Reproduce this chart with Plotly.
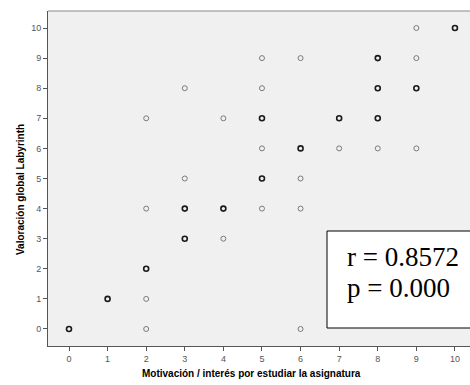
import plotly.graph_objects as go

# Data: (motivation, rating, number of coincident cases: 1 = single, 2 = several)
motivacion = [0, 1, 2, 2, 2, 2, 2, 3, 3, 3, 3, 4, 4, 4,
              5, 5, 5, 5, 5, 5, 6, 6, 6, 6, 6, 7, 7,
              8, 8, 8, 8, 9, 9, 9, 9, 10]
valoracion = [0, 1, 0, 1, 2, 4, 7, 3, 4, 5, 8, 3, 4, 7,
              4, 5, 6, 7, 8, 9, 0, 4, 5, 6, 9, 6, 7,
              6, 7, 8, 9, 6, 8, 9, 10, 10]
casos = [2, 2, 1, 1, 2, 1, 1, 2, 2, 1, 1, 1, 2, 1,
         1, 2, 1, 2, 1, 1, 1, 1, 1, 2, 1, 1, 2,
         1, 2, 2, 2, 1, 2, 1, 1, 2]

x_ticks = list(range(0, 11))
y_ticks = list(range(0, 11))
stats_lines = ["r = 0.8572", "p = 0.000"]

W, H = 470, 385
L, T, B = 48, 11, 39  # margins (px)
plot_w = W - L
plot_h = H - T - B


def px_x(p):
    return (p - L) / plot_w


def px_y(p):
    return (H - B - p) / plot_h


single_x = [x for x, n in zip(motivacion, casos) if n == 1]
single_y = [y for y, n in zip(valoracion, casos) if n == 1]
multi_x = [x for x, n in zip(motivacion, casos) if n > 1]
multi_y = [y for y, n in zip(valoracion, casos) if n > 1]

fig = go.Figure()
fig.add_trace(go.Scatter(
    x=single_x, y=single_y, mode="markers",
    marker=dict(symbol="circle-open", size=5, color="#7a7a7a",
                line=dict(width=1, color="#7a7a7a")),
    hoverinfo="x+y", showlegend=False))
fig.add_trace(go.Scatter(
    x=multi_x, y=multi_y, mode="markers",
    marker=dict(symbol="circle-open", size=5, color="#1a1a1a",
                line=dict(width=1.6, color="#1a1a1a")),
    hoverinfo="x+y", showlegend=False))

axis_common = dict(
    showgrid=False, zeroline=False, showline=True, linecolor="#555555",
    linewidth=1, ticks="outside", ticklen=4, tickcolor="#555555",
    tickfont=dict(family="Liberation Sans, Arial", size=9, color="#555555"),
)

fig.update_xaxes(range=[-0.544, 10.39], tickvals=x_ticks,
                 ticktext=[str(v) for v in x_ticks], mirror=False, **axis_common)
fig.update_yaxes(range=[-0.565, 10.565], tickvals=y_ticks,
                 ticktext=[str(v) for v in y_ticks], **axis_common)

bx0, bx1 = px_x(327), 1.0
by0, by1 = px_y(328), px_y(231)
box_line = dict(color="#000000", width=1)
shapes = [
    # top border of the plot frame
    dict(type="line", xref="paper", yref="paper", x0=0, x1=1.0, y0=1, y1=1,
         line=dict(color="#8a8a8a", width=1)),
    # statistics box (white fill, then top/left/bottom edges)
    dict(type="rect", xref="paper", yref="paper", x0=bx0, x1=bx1, y0=by0, y1=by1,
         line=dict(width=0), fillcolor="#ffffff"),
    dict(type="line", xref="paper", yref="paper", x0=bx0, x1=bx1, y0=by1, y1=by1,
         line=box_line),
    dict(type="line", xref="paper", yref="paper", x0=bx0, x1=bx1, y0=by0, y1=by0,
         line=box_line),
    dict(type="line", xref="paper", yref="paper", x0=bx0, x1=bx0, y0=by0, y1=by1,
         line=box_line),
]

annotations = [
    dict(text="<b>Motivación / interés por estudiar la asignatura</b>",
         xref="paper", yref="paper", x=px_x(251), y=px_y(373),
         xanchor="center", yanchor="middle", showarrow=False,
         font=dict(family="Liberation Sans, Arial", size=10, color="#000000")),
    dict(text="<b>Valoración global Labyrinth</b>",
         xref="paper", yref="paper", x=px_x(20), y=px_y(190),
         xanchor="center", yanchor="middle", showarrow=False, textangle=-90,
         font=dict(family="Liberation Sans, Arial", size=10, color="#000000")),
]
for i, line in enumerate(stats_lines):
    annotations.append(dict(
        text=line, xref="paper", yref="paper", x=px_x(345), y=px_y(257 + 31 * i),
        xanchor="left", yanchor="middle", showarrow=False,
        font=dict(family="Liberation Serif, Times New Roman", size=27, color="#000000")))

fig.update_layout(
    width=W, height=H,
    margin=dict(l=L, r=0, t=T, b=B),
    paper_bgcolor="#ffffff", plot_bgcolor="#f0f0f0",
    shapes=shapes, annotations=annotations,
    showlegend=False,
)

fig.write_html(
    "out.html",
    config={"displayModeBar": False},
    post_script="document.body.style.margin='0';document.body.style.padding='0';"
                "document.body.style.overflow='hidden';",
)
